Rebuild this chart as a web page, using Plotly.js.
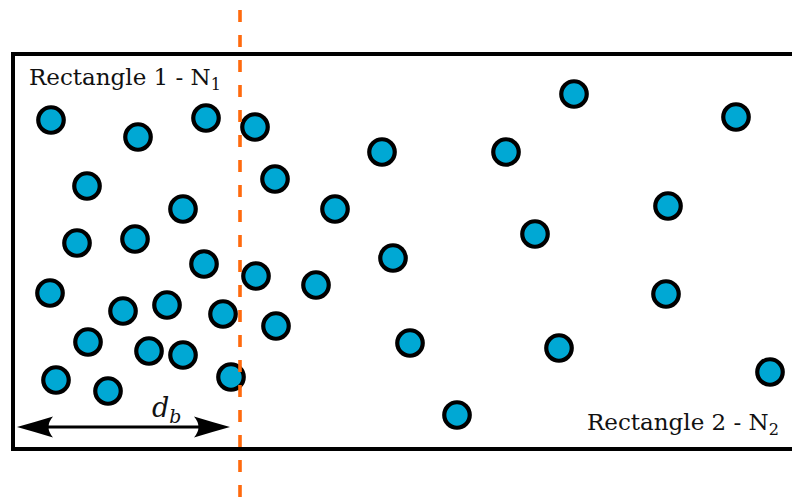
<!DOCTYPE html>
<html>
<head>
<meta charset="utf-8">
<script src="https://cdn.plot.ly/plotly-3.0.1.min.js"></script>
<style>html,body{margin:0;padding:0;background:#fff;}#chart{width:792px;height:498px;}</style>
</head>
<body>
<div id="chart"></div>
<script>
// Particle centres (diagram coordinates, origin top-left)
const particleX = [51, 138, 206, 255, 87, 183, 275, 382, 506, 574, 736, 668, 335, 535,
                   77, 135, 204, 256, 316, 393, 666, 50, 123, 167, 223, 276, 88, 149,
                   183, 410, 559, 56, 108, 231, 457, 770];
const particleY = [120, 137, 118, 127, 186, 209, 179, 152, 152, 94, 117, 206, 209, 234,
                   243, 239, 264, 276, 285, 258, 294, 293, 311, 305, 314, 326, 342, 351,
                   355, 343, 348, 380, 391, 377, 415, 372];
// Geometry of the two rectangles' boundary and the distance d_b
const boxLeft = 13, boxTop = 54, boxBottom = 449, boxRight = 805;
const boundaryX = 240;
const arrowLeft = 17, arrowRight = 230, arrowY = 427;
const labels = ['Rectangle 1 - N<sub>1</sub>', 'Rectangle 2 - N<sub>2</sub>', '<i>d<sub>b</sub></i>'];

const trace = {
  x: particleX, y: particleY, type: 'scatter', mode: 'markers',
  marker: {size: 25.5, color: '#00a8d4', line: {color: '#000', width: 4.2}},
  hoverinfo: 'skip', showlegend: false
};

function head(tip, dir) {
  const b = tip + dir * 36, n = tip + dir * 27;
  return `M ${tip} ${arrowY} Q ${tip + dir*18} ${arrowY-5} ${b} ${arrowY-10.5} Q ${n} ${arrowY} ${b} ${arrowY+10.5} Q ${tip + dir*18} ${arrowY+5} ${tip} ${arrowY} Z`;
}

const shapes = [
  {type: 'rect', xref: 'x', yref: 'y', x0: boxLeft, x1: boxRight, y0: boxTop, y1: boxBottom,
   line: {color: '#000', width: 4}, layer: 'below'},
  {type: 'line', xref: 'x', yref: 'y', x0: arrowLeft + 20, x1: arrowRight - 20, y0: arrowY, y1: arrowY,
   line: {color: '#000', width: 3}},
  {type: 'path', xref: 'x', yref: 'y', path: head(arrowLeft, 1), fillcolor: '#000', line: {width: 0}},
  {type: 'path', xref: 'x', yref: 'y', path: head(arrowRight, -1), fillcolor: '#000', line: {width: 0}},
  {type: 'line', xref: 'x', yref: 'y', x0: boundaryX, x1: boundaryX, y0: -15, y1: 510,
   line: {color: '#ff6a0d', width: 3.6, dash: '12px,13px'}, layer: 'above'}
];

const font = {family: 'DejaVu Serif', size: 23, color: '#111'};
const annotations = [
  {x: 27, y: 79, xref: 'x', yref: 'y', text: labels[0], showarrow: false, xanchor: 'left', yanchor: 'middle', font: font},
  {x: 781, y: 424, xref: 'x', yref: 'y', text: labels[1], showarrow: false, xanchor: 'right', yanchor: 'middle', font: font},
  {x: 166, y: 409, xref: 'x', yref: 'y', text: labels[2], showarrow: false, xanchor: 'center', yanchor: 'middle',
   font: {family: 'DejaVu Serif', size: 27, color: '#111'}}
];

const layout = {
  width: 792, height: 498,
  margin: {l: 0, r: 0, t: 0, b: 0, pad: 0},
  paper_bgcolor: '#fff', plot_bgcolor: '#fff',
  xaxis: {range: [0, 792], visible: false, fixedrange: true},
  yaxis: {range: [498, 0], visible: false, fixedrange: true},
  shapes: shapes, annotations: annotations, showlegend: false
};

Plotly.newPlot('chart', [trace], layout, {displayModeBar: false, staticPlot: true});
</script>
</body>
</html>
